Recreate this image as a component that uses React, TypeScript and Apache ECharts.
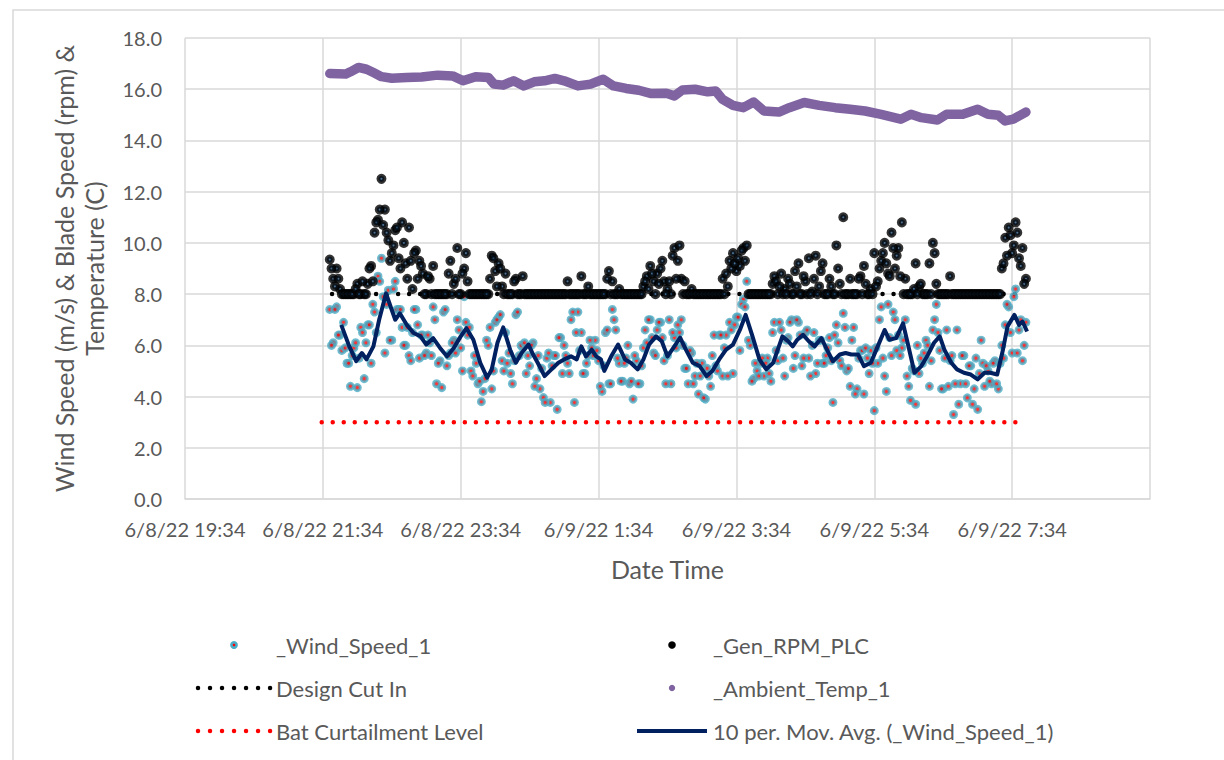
import React, { useEffect, useRef } from "react";
import * as echarts from "echarts";

// Times are minutes after 6/8/22 21:34 (x axis runs from 19:34 to 9:34 next day)
const X_MIN = -120;
const X_MAX = 720;
const X_STEP = 120;
const BASE_HOUR = 21;
const BASE_MIN = 34;

// Y axis
const Y_MIN = 0;
const Y_MAX = 18;
const Y_STEP = 2;

// sampled series: two interleaved readings, each every 3 minutes (minutes after 21:34)
const SAMPLE_STEP = 3;
const SAMPLE_START_A = 6;
const SAMPLE_START_B = 7.5;

const WIND_SPEED_A = [
  7.4, 6.1, 7.5, 6.4, 6.9, 5.3, 4.4, 5.9, 4.35, 6.7,
  4.7, 6.8, 5.3, 7.3, 8.7, 9.4, 5.7, 8.15, 6.2, 8.5,
  7.4, 6.7, 6.0, 5.6, 6.5, 7.4, 5.5, 6.4, 5.7, 6.1,
  7.5, 4.5, 5.4, 7.3, 5.2, 5.7, 6.2, 7.0, 5.9, 7.9,
  6.4, 5.0, 5.6, 4.5, 3.8, 4.7, 6.0, 4.3, 6.9, 7.1,
  5.4, 6.5, 5.7, 4.5, 7.2, 5.6, 5.9, 4.9, 5.2, 6.1,
  4.7, 4.3, 3.96, 5.5, 3.77, 5.6, 3.5, 6.3, 6.0, 5.3,
  7.0, 3.77, 7.3, 6.5, 4.9, 5.6, 5.9, 6.2, 5.4, 4.2,
  6.5, 4.5, 7.4, 6.6, 5.3, 4.6, 5.5, 4.5, 3.9, 5.4,
  4.5, 5.9, 6.1, 7.0, 5.7, 6.6, 6.9, 5.4, 5.6, 4.5,
  6.3, 6.8, 7.0, 5.1, 4.5, 5.7, 4.8, 4.1, 5.3, 3.9,
  4.8, 5.6, 5.2, 6.4, 4.8, 6.4, 6.9, 4.9, 7.1, 5.8,
  7.8, 8.5, 6.0, 4.7, 5.0, 5.3, 4.8, 5.5, 4.6, 6.9,
  5.4, 6.6, 4.8, 6.3, 7.0, 5.6, 6.9, 5.2, 6.5, 5.5,
  6.0, 4.9, 6.2, 5.3, 5.6, 6.3, 3.77, 6.8, 5.4, 7.25,
  5.0, 4.4, 6.7, 4.3, 5.8, 4.1, 5.5, 5.8, 3.45, 5.3,
  7.5, 4.8, 7.6, 5.6, 7.0, 6.4, 5.9, 7.0, 4.4, 5.1,
  3.7, 4.9, 5.3, 6.2, 4.4, 6.6, 7.6, 5.8, 4.3, 6.6,
  5.4, 3.3, 6.6, 4.5, 5.6, 3.95, 5.2, 4.3, 3.5, 6.2,
  4.4, 5.0, 4.5, 5.4, 4.3, 6.0, 6.8, 7.5, 5.7, 8.2,
  6.6, 5.4, 6.9,
];

const WIND_SPEED_B = [
  6.0, 7.4, 6.4, 5.8, 5.9, 5.3, 5.6, 6.1, 5.5, 6.5,
  6.1, 6.8, 7.6, 6.5, 8.5, 7.9, 7.6, 6.2, 8.2, 7.4,
  7.4, 6.0, 6.7, 5.4, 7.4, 6.8, 6.4, 5.6, 6.4, 5.6,
  7.0, 5.3, 4.35, 7.4, 5.6, 6.1, 5.7, 6.6, 5.0, 6.9,
  6.7, 4.8, 5.3, 4.6, 4.2, 6.2, 6.7, 5.0, 7.0, 7.2,
  5.0, 5.3, 4.9, 5.4, 7.3, 6.0, 6.1, 5.6, 6.0, 4.4,
  5.6, 5.1, 3.77, 5.7, 5.2, 5.6, 6.3, 4.9, 5.6, 4.9,
  7.3, 6.5, 5.8, 4.9, 5.3, 6.2, 5.6, 5.8, 4.4, 5.2,
  6.6, 4.5, 7.0, 5.5, 4.6, 5.3, 6.0, 4.6, 5.6, 4.5,
  5.2, 6.6, 7.0, 6.3, 5.6, 6.9, 6.3, 4.5, 7.0, 6.5,
  5.9, 6.5, 6.0, 5.1, 5.8, 4.5, 5.3, 4.8, 3.95, 5.1,
  4.4, 6.4, 5.0, 6.4, 5.9, 4.8, 6.6, 6.8, 7.1, 7.6,
  7.5, 6.2, 4.6, 5.3, 4.8, 5.5, 5.3, 4.9, 6.5, 5.8,
  6.9, 5.5, 6.2, 6.9, 5.1, 7.0, 6.4, 5.5, 6.6, 4.8,
  6.5, 5.3, 6.2, 5.3, 5.9, 5.4, 6.4, 6.1, 5.2, 6.7,
  5.1, 6.2, 4.1, 5.5, 5.8, 5.9, 4.9, 5.3, 5.9, 7.0,
  5.5, 4.2, 6.3, 7.3, 5.8, 5.6, 6.2, 4.8, 3.85, 5.0,
  6.0, 5.5, 5.7, 6.0, 5.4, 7.0, 6.5, 4.3, 5.5, 4.4,
  5.6, 4.5, 3.7, 5.6, 4.5, 5.2, 3.7, 5.5, 4.9, 5.3,
  5.2, 4.6, 5.3, 4.5, 5.3, 5.5, 7.6, 6.5, 7.9, 5.7,
  7.0, 6.0,
];

const GEN_RPM_A = [
  9.35, 8.6, 9.0, 8.2, 8.0, 8.0, 8.0, 8.0, 8.4, 8.0,
  8.0, 8.4, 9.1, 10.4, 10.9, 12.5, 11.3, 10.1, 9.6, 10.5,
  9.4, 10.8, 9.2, 10.6, 8.2, 9.7, 9.3, 8.8, 8.0, 8.6,
  9.1, 8.0, 8.0, 8.0, 8.0, 9.3, 8.4, 9.8, 8.0, 9.0,
  8.5, 8.0, 8.0, 8.0, 8.0, 8.0, 8.0, 9.5, 8.9, 9.2,
  8.3, 8.8, 8.0, 8.0, 8.6, 8.0, 8.7, 8.0, 8.0, 8.0,
  8.0, 8.0, 8.0, 8.0, 8.0, 8.0, 8.0, 8.0, 8.0, 8.5,
  8.0, 8.0, 8.0, 8.7, 8.0, 8.3, 8.0, 8.0, 8.0, 8.0,
  8.0, 8.9, 8.5, 8.0, 8.2, 8.0, 8.0, 8.0, 8.0, 8.0,
  8.0, 8.3, 8.7, 9.1, 8.5, 8.8, 9.0, 8.5, 8.2, 8.0,
  9.8, 9.3, 8.6, 8.5, 8.0, 8.2, 8.0, 8.0, 8.0, 8.0,
  8.0, 8.0, 8.0, 8.0, 8.6, 8.8, 9.3, 9.6, 8.9, 9.1,
  9.8, 9.9, 8.0, 8.0, 8.0, 8.0, 8.0, 8.0, 8.0, 8.7,
  8.0, 8.8, 8.2, 8.6, 8.0, 8.9, 9.2, 8.0, 8.5, 9.4,
  8.1, 9.5, 8.3, 9.2, 8.0, 8.6, 8.0, 9.9, 8.4, 11.0,
  8.0, 8.6, 8.0, 8.0, 8.7, 9.1, 8.0, 8.2, 9.6, 8.5,
  9.3, 10.0, 8.8, 10.4, 9.0, 9.8, 10.8, 8.6, 8.0, 8.0,
  9.2, 8.3, 8.0, 8.0, 9.2, 10.0, 8.4, 8.0, 8.0, 8.0,
  8.7, 8.0, 8.0, 8.0, 8.0, 8.0, 8.0, 8.0, 8.0, 8.0,
  8.0, 8.0, 8.0, 8.0, 8.0, 9.0, 10.2, 10.6, 9.6, 10.8,
  9.4, 9.8, 8.6,
];

const GEN_RPM_B = [
  9.0, 8.3, 8.6, 8.0, 8.0, 8.0, 8.0, 8.2, 8.0, 8.5,
  8.0, 9.0, 8.5, 10.8, 11.3, 10.7, 10.4, 9.3, 9.9, 10.6,
  9.0, 10.0, 8.6, 9.3, 9.6, 8.6, 9.1, 8.0, 8.7, 8.0,
  8.0, 8.0, 8.0, 8.0, 8.8, 8.0, 8.6, 8.0, 8.8, 9.6,
  8.0, 8.0, 8.0, 8.0, 8.0, 8.0, 8.6, 9.4, 8.3, 9.0,
  8.0, 8.0, 8.0, 8.5, 8.0, 8.0, 8.0, 8.0, 8.0, 8.0,
  8.0, 8.0, 8.0, 8.0, 8.0, 8.0, 8.0, 8.0, 8.0, 8.0,
  8.0, 8.0, 8.0, 8.0, 8.0, 8.0, 8.0, 8.0, 8.0, 8.0,
  8.6, 8.0, 8.0, 8.0, 8.0, 8.0, 8.0, 8.0, 8.0, 8.0,
  8.0, 8.5, 8.2, 8.8, 8.0, 8.4, 9.3, 8.0, 8.5, 9.5,
  8.6, 9.9, 8.0, 8.0, 8.0, 8.0, 8.0, 8.0, 8.0, 8.0,
  8.0, 8.0, 8.0, 8.0, 8.0, 8.3, 9.0, 9.2, 9.4, 9.7,
  9.3, 8.0, 8.0, 8.0, 8.0, 8.0, 8.0, 8.0, 8.4, 8.5,
  8.3, 8.0, 8.0, 8.4, 8.0, 8.3, 8.0, 8.7, 8.0, 8.0,
  8.6, 8.0, 8.9, 8.0, 8.0, 8.3, 8.0, 9.0, 8.0, 8.0,
  8.0, 8.0, 8.0, 8.6, 8.0, 8.4, 8.0, 8.0, 8.3, 9.0,
  9.6, 9.2, 8.7, 9.8, 9.5, 8.7, 8.0, 8.0, 8.0, 8.2,
  8.0, 8.4, 8.0, 8.0, 8.0, 9.6, 8.0, 8.0, 8.0, 8.0,
  8.0, 8.0, 8.0, 8.0, 8.0, 8.0, 8.0, 8.0, 8.0, 8.0,
  8.0, 8.0, 8.0, 8.0, 8.0, 9.2, 9.5, 10.3, 9.9, 10.4,
  9.1, 8.4,
];

const TEMP_TIME = [
  6, 20, 24, 31, 38, 44, 51, 60, 73, 86,
  100, 113, 122, 133, 144, 149, 157, 166, 175, 184,
  193, 202, 210, 222, 233, 244, 253, 264, 275, 286,
  299, 306, 313, 324, 335, 342, 348, 357, 366, 375,
  384, 397, 406, 419, 432, 446, 459, 472, 486, 503,
  512, 521, 535, 543, 557, 570, 579, 588, 594, 601,
  612,
];
const TEMP_VALUE = [
  16.61, 16.59, 16.68, 16.85, 16.78, 16.65, 16.49, 16.43, 16.46, 16.48,
  16.55, 16.52, 16.33, 16.49, 16.46, 16.2, 16.16, 16.33, 16.13, 16.29,
  16.33, 16.42, 16.33, 16.13, 16.2, 16.39, 16.13, 16.03, 15.96, 15.83,
  15.84, 15.74, 15.97, 16.0, 15.9, 15.93, 15.6, 15.37, 15.28, 15.5,
  15.15, 15.11, 15.28, 15.48, 15.37, 15.28, 15.22, 15.15, 15.02, 14.83,
  15.02, 14.89, 14.8, 15.02, 15.02, 15.22, 15.02, 14.98, 14.76, 14.83,
  15.11,
];

const MA_TIME = [
  16, 23, 29, 34, 38, 44, 49, 55, 60, 63, 67, 73, 79, 85, 90, 96, 102, 108, 114, 120,
  125, 131, 137, 143, 147, 152, 157, 163, 168, 173, 179, 183, 187, 193, 199, 205, 210, 216, 221, 225,
  229, 234, 238, 242, 245, 251, 257, 263, 268, 274, 279, 284, 290, 295, 300, 306, 311, 316, 322, 328,
  334, 339, 345, 351, 357, 363, 368, 374, 380, 386, 392, 396, 400, 405, 409, 413, 418, 423, 428, 434,
  438, 444, 450, 455, 460, 466, 471, 477, 483, 489, 493, 499, 505, 509, 515, 521, 526, 532, 537, 541,
  547, 552, 558, 564, 570, 576, 581, 587, 592, 596, 602, 606, 609, 613,
];
const MA_VALUE = [
  6.8, 5.96, 5.38, 5.7, 5.45, 5.96, 7.0, 8.03, 7.38, 7.0, 7.25, 6.8, 6.48, 6.35, 6.03, 6.28, 5.9, 5.57, 5.9, 6.35,
  6.67, 6.22, 5.32, 4.74, 5.06, 6.1, 6.7, 5.83, 5.32, 5.7, 6.03, 5.64, 5.32, 4.8, 5.06, 5.32, 5.45, 5.57, 5.45, 5.96,
  5.57, 5.83, 5.57, 5.45, 5.0, 5.57, 6.03, 5.45, 5.32, 5.06, 5.45, 6.03, 6.35, 6.16, 5.57, 5.96, 6.3, 5.83, 5.32, 5.19,
  4.8, 5.0, 5.45, 5.83, 6.03, 6.6, 7.19, 6.35, 5.45, 5.06, 5.32, 5.83, 6.35, 6.16, 5.96, 6.22, 6.41, 6.16, 5.96, 6.28,
  5.9, 5.38, 5.64, 5.7, 5.64, 5.64, 5.19, 5.32, 5.96, 6.6, 6.22, 6.28, 6.86, 6.1, 4.93, 5.19, 5.57, 6.1, 6.35, 5.83,
  5.32, 5.06, 4.93, 4.86, 4.67, 4.93, 4.93, 4.86, 5.83, 6.74, 7.19, 6.8, 6.93, 6.54,
];

const DESIGN_CUT_IN = 8.0;
const DESIGN_RANGE = [8, 606];
const BAT_CURTAILMENT = 3.0;
const BAT_RANGE = [-1, 606];

const SERIES_NAMES = [
  "_Wind_Speed_1",
  "_Gen_RPM_PLC",
  "Design Cut In",
  "_Ambient_Temp_1",
  "Bat Curtailment Level",
  "10 per. Mov. Avg. (_Wind_Speed_1)",
];

const FONT = "Lato, 'Noto Sans', sans-serif";
const TEXT_COLOR = "#595959";
const GRID_COLOR = "#d9d9d9";
const C_WIND = "#4bacc6";
const C_RED = "#ff0000";
const C_TEMP = "#8064a2";
const C_MA = "#002060";

function formatTime(v: number): string {
  const total = BASE_HOUR * 60 + BASE_MIN + v;
  const dayOff = Math.floor(total / 1440);
  const m = ((total % 1440) + 1440) % 1440;
  const h = Math.floor(m / 60);
  const mm = m % 60;
  return `6/${8 + dayOff}/22 ${h}:${String(mm).padStart(2, "0")}`;
}

export default function App() {
  const ref = useRef<HTMLDivElement>(null);
  useEffect(() => {
    document.body.style.margin = "0";
    if (!ref.current) return;
    const chart = echarts.init(ref.current, null, { renderer: "svg" });

    const sampled = (arr: number[], start: number) => arr.map((v, i) => [start + i * SAMPLE_STEP, v]);
    const paired = (t: number[], v: number[]) => t.map((x, i) => [x, v[i]]);
    const dots = [0.01, 11];

    // legend drawn with graphic elements (two columns, three rows)
    const rowY = [645, 688, 731];
    const col1Text = 276;
    const col2Text = 713;
    const legendText = (name: string, x: number, y: number) => ({
      type: "text",
      x,
      y,
      style: {
        text: name,
        fill: TEXT_COLOR,
        fontFamily: FONT,
        fontSize: 22,
        align: "left",
        verticalAlign: "middle",
      },
    });
    const legendGraphics = [
      { type: "circle", shape: { cx: 234, cy: rowY[0], r: 2.6 }, style: { fill: C_RED, stroke: C_WIND, lineWidth: 2.6 } },
      legendText(SERIES_NAMES[0], col1Text, rowY[0]),
      { type: "circle", shape: { cx: 672, cy: rowY[0], r: 3.8 }, style: { fill: "#000000" } },
      legendText(SERIES_NAMES[1], col2Text, rowY[0]),
      { type: "line", shape: { x1: 198, y1: rowY[1], x2: 271, y2: rowY[1] }, style: { stroke: "#000000", lineWidth: 4.5, lineDash: [0.01, 12], lineCap: "round" } },
      legendText(SERIES_NAMES[2], col1Text, rowY[1]),
      { type: "circle", shape: { cx: 672, cy: rowY[1], r: 3.2 }, style: { fill: C_TEMP } },
      legendText(SERIES_NAMES[3], col2Text, rowY[1]),
      { type: "line", shape: { x1: 198, y1: rowY[2], x2: 271, y2: rowY[2] }, style: { stroke: C_RED, lineWidth: 4.5, lineDash: [0.01, 12], lineCap: "round" } },
      legendText(SERIES_NAMES[4], col1Text, rowY[2]),
      { type: "line", shape: { x1: 637, y1: rowY[2], x2: 707, y2: rowY[2] }, style: { stroke: C_MA, lineWidth: 4 } },
      legendText(SERIES_NAMES[5], col2Text, rowY[2]),
    ].map((g: any) => ({ silent: true, ...g }));

    chart.setOption({
      animation: false,
      backgroundColor: "#ffffff",
      graphic: [
        {
          type: "rect",
          shape: { x: 13, y: 10, width: 1400, height: 1000 },
          style: { fill: "none", stroke: GRID_COLOR, lineWidth: 1.5 },
          silent: true,
          z: -10,
        },
        ...legendGraphics,
      ],
      grid: { left: 185, right: 74, top: 38, bottom: 261, containLabel: false },
      xAxis: {
        type: "value",
        min: X_MIN,
        max: X_MAX,
        interval: X_STEP,
        axisLine: { show: true, lineStyle: { color: GRID_COLOR, width: 1.5 } },
        axisTick: { show: false },
        splitLine: { show: true, lineStyle: { color: GRID_COLOR, width: 1.5 } },
        axisLabel: {
          formatter: (v: number) => formatTime(v),
          showMaxLabel: false,
          color: TEXT_COLOR,
          fontFamily: FONT,
          fontSize: 20,
          margin: 20,
        },
        name: "Date Time",
        nameLocation: "middle",
        nameGap: 57,
        nameTextStyle: { color: TEXT_COLOR, fontFamily: FONT, fontSize: 25 },
      },
      yAxis: {
        type: "value",
        min: Y_MIN,
        max: Y_MAX,
        interval: Y_STEP,
        axisLine: { show: false },
        axisTick: { show: false },
        splitLine: { show: true, lineStyle: { color: GRID_COLOR, width: 1.5 } },
        axisLabel: {
          formatter: (v: number) => v.toFixed(1),
          color: TEXT_COLOR,
          fontFamily: FONT,
          fontSize: 20,
          margin: 23,
        },
        name: "Wind Speed (m/s) & Blade Speed (rpm) &\nTemperature (C)",
        nameLocation: "middle",
        nameGap: 76,
        nameTextStyle: { color: TEXT_COLOR, fontFamily: FONT, fontSize: 25, lineHeight: 30 },
      },
      series: [
        {
          name: SERIES_NAMES[0],
          type: "scatter",
          data: [...sampled(WIND_SPEED_A, SAMPLE_START_A), ...sampled(WIND_SPEED_B, SAMPLE_START_B)],
          symbol: "circle",
          symbolSize: 6,
          itemStyle: { color: C_RED, borderColor: C_WIND, borderWidth: 3 },
          z: 2,
        },
        {
          name: SERIES_NAMES[1],
          type: "scatter",
          data: [...sampled(GEN_RPM_A, SAMPLE_START_A), ...sampled(GEN_RPM_B, SAMPLE_START_B)],
          symbol: "circle",
          symbolSize: 6,
          itemStyle: { color: "#1f4e79", borderColor: "#000000", borderWidth: 4 },
          z: 3,
        },
        {
          name: SERIES_NAMES[2],
          type: "line",
          data: DESIGN_RANGE.map((t) => [t, DESIGN_CUT_IN]),
          symbol: "none",
          lineStyle: { color: "#000000", width: 4.5, type: dots, cap: "round" },
          z: 1,
        },
        {
          name: SERIES_NAMES[3],
          type: "line",
          data: paired(TEMP_TIME, TEMP_VALUE),
          symbol: "none",
          lineStyle: { color: C_TEMP, width: 9.5, cap: "round", join: "round" },
          z: 4,
        },
        {
          name: SERIES_NAMES[4],
          type: "line",
          data: BAT_RANGE.map((t) => [t, BAT_CURTAILMENT]),
          symbol: "none",
          lineStyle: { color: C_RED, width: 4.5, type: dots, cap: "round" },
          z: 4,
        },
        {
          name: SERIES_NAMES[5],
          type: "line",
          data: paired(MA_TIME, MA_VALUE),
          symbol: "none",
          lineStyle: { color: C_MA, width: 4, join: "round" },
          z: 5,
        },
      ],
    });
    return () => chart.dispose();
  }, []);
  return <div ref={ref} style={{ width: 1224, height: 760 }} />;
}
